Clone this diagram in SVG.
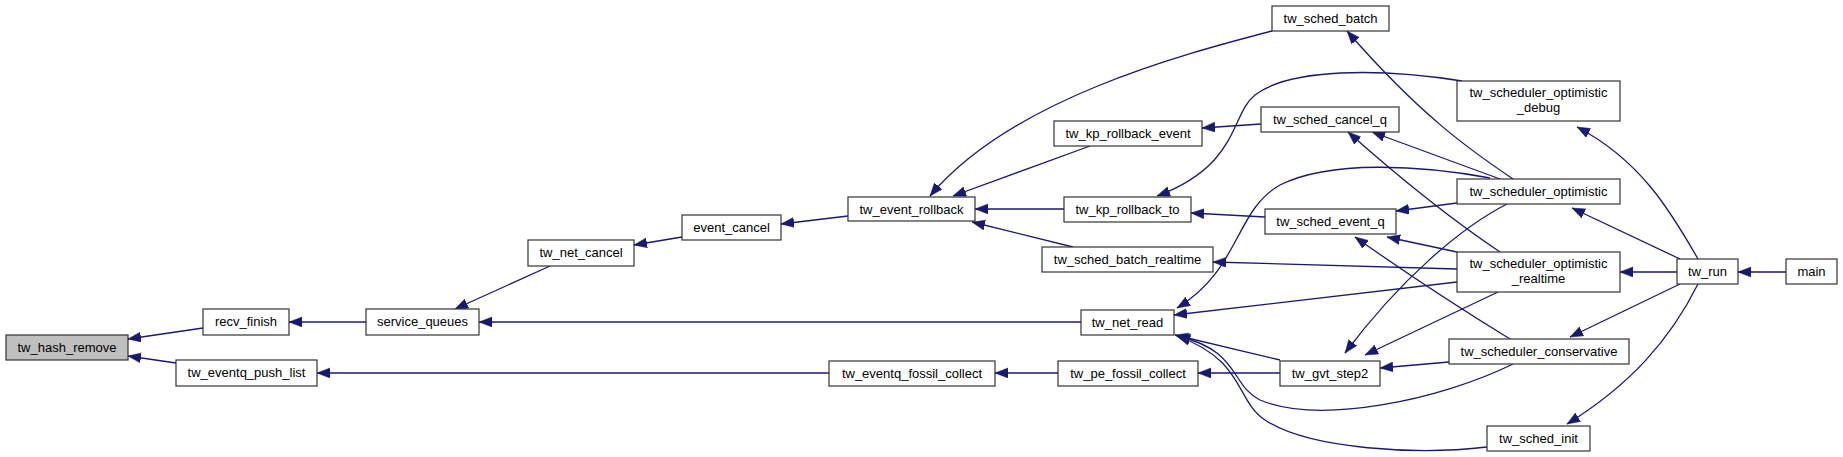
<svg xmlns="http://www.w3.org/2000/svg" width="1843" height="457" viewBox="0 0 1843 457">
<style>
.n rect{fill:#fff;stroke:#333;stroke-width:1.2}
.n.g rect{fill:#bfbfbf}
.n text{font-family:"Liberation Sans",Arial,sans-serif;font-size:13px;fill:#000;text-anchor:middle}
#edges path{fill:none;stroke:#191970;stroke-width:1.3;marker-end:url(#ah)}
</style>
<defs>
<marker id="ah" markerUnits="userSpaceOnUse" markerWidth="14" markerHeight="11" refX="13" refY="5" orient="auto">
<path d="M0,0 L13,5 L0,10 Z" fill="#191970" stroke="#191970" stroke-width="0.5"/>
</marker>
</defs>
<rect width="1843" height="457" fill="#fff"/>
<g id="edges">
<path d="M203,328 L128,339"/>
<path d="M176,363 L128,356"/>
<path d="M366,322 L289,322"/>
<path d="M550,266 L455,309"/>
<path d="M1081,322 L479,322"/>
<path d="M829,373 L317,373"/>
<path d="M682,237 L634,245"/>
<path d="M848,216 L781,224"/>
<path d="M1272,31 C1180,55 1010,100 930,196"/>
<path d="M1090,146 L953,196"/>
<path d="M1064,209 L975,209"/>
<path d="M1073,247 L972,222"/>
<path d="M1261,124 L1202,128"/>
<path d="M1265,217 L1191,213"/>
<path d="M1462,81 C1380,68 1290,68 1255,95 C1230,115 1240,165 1157,196"/>
<path d="M1513,179 C1470,150 1420,115 1347,31"/>
<path d="M1500,179 L1372,132"/>
<path d="M1500,252 Q1430,205 1348,132"/>
<path d="M1457,203 L1396,211"/>
<path d="M1457,252 L1387,237"/>
<path d="M1510,339 Q1430,290 1355,237"/>
<path d="M1457,269 L1213,262"/>
<path d="M1457,282 L1174,315"/>
<path d="M1490,178 C1420,165 1330,160 1280,185 C1235,210 1240,270 1177,308"/>
<path d="M1280,360 L1175,335"/>
<path d="M1513,364 C1440,400 1320,425 1260,400 C1230,385 1240,350 1177,336"/>
<path d="M1487,447 C1420,455 1310,450 1265,420 C1235,400 1245,360 1177,336"/>
<path d="M1280,373 L1198,373"/>
<path d="M1058,373 L995,373"/>
<path d="M1507,204 C1460,228 1400,280 1345,353"/>
<path d="M1498,292 L1365,355"/>
<path d="M1449,362 L1380,368"/>
<path d="M1698,259 C1670,210 1640,160 1577,127"/>
<path d="M1680,259 L1572,208"/>
<path d="M1677,272 L1620,272"/>
<path d="M1680,284 L1570,337"/>
<path d="M1698,284 C1670,340 1630,385 1567,424"/>
<path d="M1786,272 L1738,272"/>
</g>
<g id="tw_hash_remove" class="n g"><rect x="6" y="335" width="122" height="25"/><text x="67" y="352">tw_hash_remove</text></g>
<g id="recv_finish" class="n"><rect x="203" y="309" width="86" height="26"/><text x="246" y="326">recv_finish</text></g>
<g id="service_queues" class="n"><rect x="366" y="309" width="113" height="26"/><text x="422.5" y="326">service_queues</text></g>
<g id="tw_eventq_push_list" class="n"><rect x="176" y="360" width="141" height="26"/><text x="246.5" y="377">tw_eventq_push_list</text></g>
<g id="tw_net_cancel" class="n"><rect x="528" y="240" width="106" height="26"/><text x="581" y="257">tw_net_cancel</text></g>
<g id="event_cancel" class="n"><rect x="682" y="215" width="99" height="25"/><text x="731.5" y="232">event_cancel</text></g>
<g id="tw_event_rollback" class="n"><rect x="848" y="197" width="127" height="24"/><text x="911.5" y="213.5">tw_event_rollback</text></g>
<g id="tw_sched_batch" class="n"><rect x="1272" y="6" width="117" height="25"/><text x="1330.5" y="23">tw_sched_batch</text></g>
<g id="tw_kp_rollback_event" class="n"><rect x="1054" y="121" width="148" height="25"/><text x="1128" y="138">tw_kp_rollback_event</text></g>
<g id="tw_sched_cancel_q" class="n"><rect x="1261" y="107" width="138" height="25"/><text x="1330" y="124">tw_sched_cancel_q</text></g>
<g id="tw_kp_rollback_to" class="n"><rect x="1064" y="197" width="127" height="25"/><text x="1127.5" y="214">tw_kp_rollback_to</text></g>
<g id="tw_sched_event_q" class="n"><rect x="1265" y="209" width="131" height="25"/><text x="1330.5" y="226">tw_sched_event_q</text></g>
<g id="tw_sched_batch_realtime" class="n"><rect x="1042" y="247" width="171" height="25"/><text x="1127.5" y="264">tw_sched_batch_realtime</text></g>
<g id="tw_net_read" class="n"><rect x="1081" y="310" width="93" height="25"/><text x="1127.5" y="327">tw_net_read</text></g>
<g id="tw_eventq_fossil_collect" class="n"><rect x="829" y="361" width="166" height="25"/><text x="912" y="378">tw_eventq_fossil_collect</text></g>
<g id="tw_pe_fossil_collect" class="n"><rect x="1058" y="361" width="140" height="25"/><text x="1128" y="378">tw_pe_fossil_collect</text></g>
<g id="tw_gvt_step2" class="n"><rect x="1280" y="361" width="100" height="25"/><text x="1330" y="378">tw_gvt_step2</text></g>
<g id="tw_scheduler_optimistic_debug" class="n"><rect x="1457" y="81" width="163" height="40"/><text x="1538.5" y="97">tw_scheduler_optimistic</text><text x="1538.5" y="112">_debug</text></g>
<g id="tw_scheduler_optimistic" class="n"><rect x="1457" y="179" width="163" height="25"/><text x="1538.5" y="196">tw_scheduler_optimistic</text></g>
<g id="tw_scheduler_optimistic_realtime" class="n"><rect x="1457" y="252" width="163" height="40"/><text x="1538.5" y="268">tw_scheduler_optimistic</text><text x="1538.5" y="283">_realtime</text></g>
<g id="tw_scheduler_conservative" class="n"><rect x="1449" y="339" width="180" height="25"/><text x="1539" y="356">tw_scheduler_conservative</text></g>
<g id="tw_sched_init" class="n"><rect x="1487" y="426" width="103" height="25"/><text x="1538.5" y="443">tw_sched_init</text></g>
<g id="tw_run" class="n"><rect x="1677" y="259" width="61" height="25"/><text x="1707.5" y="276">tw_run</text></g>
<g id="main" class="n"><rect x="1786" y="259" width="51" height="25"/><text x="1811.5" y="276">main</text></g>
</svg>
